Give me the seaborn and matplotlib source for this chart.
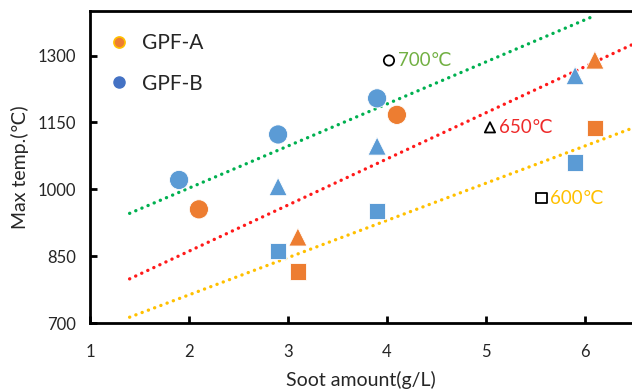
import matplotlib
matplotlib.use("Agg")
import matplotlib.pyplot as plt
import pandas as pd
import seaborn as sns
from matplotlib.lines import Line2D

# measured points: soot amount (g/L), max temperature (deg C), furnace temp group
soot_a = [2.1, 4.1, 3.1, 6.1, 3.1, 6.1]
temp_a = [955, 1167, 893, 1290, 816, 1137]
group_a = ["700", "700", "650", "650", "600", "600"]

soot_b = [1.9, 2.9, 3.9, 2.9, 3.9, 5.9, 2.9, 3.9, 5.9]
temp_b = [1021, 1123, 1204, 1006, 1097, 1255, 861, 951, 1060]
group_b = ["700", "700", "700", "650", "650", "650", "600", "600", "600"]

# dotted trend lines (start / end)
line_x = {"700": [1.4, 6.05], "650": [1.4, 6.5], "600": [1.4, 6.5]}
line_y = {"700": [946, 1385], "650": [799, 1327], "600": [713, 1139]}

x_ticks = [1, 2, 3, 4, 5, 6]
y_ticks = [700, 850, 1000, 1150, 1300]

df = pd.concat(
    [
        pd.DataFrame({"soot": soot_a, "temp": temp_a, "group": group_a, "filter": "GPF-A"}),
        pd.DataFrame({"soot": soot_b, "temp": temp_b, "group": group_b, "filter": "GPF-B"}),
    ],
    ignore_index=True,
)

sns.set_theme(style="white")
plt.rcParams["font.family"] = ["Lato", "DejaVu Sans"]

fig = plt.figure(figsize=(6.32, 3.92), dpi=100)
ax = fig.add_axes([90 / 632, 69 / 392, 542 / 632, 312 / 392])

line_colors = {"700": "#00b050", "650": "#ff1a1a", "600": "#ffc000"}
for key in ["700", "650", "600"]:
    sns.lineplot(
        x=line_x[key],
        y=line_y[key],
        ax=ax,
        color=line_colors[key],
        linewidth=2.4,
        linestyle=(0, (0.05, 1.95)),
        dash_capstyle="round",
        legend=False,
    )

sns.scatterplot(
    data=df,
    x="soot",
    y="temp",
    hue="filter",
    palette={"GPF-A": "#ed7d31", "GPF-B": "#5b9bd5"},
    style="group",
    markers={"700": "o", "650": "^", "600": "s"},
    size="group",
    sizes={"700": 190, "650": 170, "600": 140},
    edgecolor="white",
    linewidth=0.6,
    ax=ax,
    legend=False,
    zorder=3,
)

# marker key annotations
keys = [
    (4.02, 1289, "o", "700℃", "#72b043"),
    (5.04, 1139, "^", "650℃", "#ee2a2a"),
    (5.56, 980, "s", "600℃", "#ffc000"),
]
for kx, ky, m, label, c in keys:
    ax.scatter([kx], [ky], marker=m, s=55, facecolors="none", edgecolors="black", linewidths=1.3, zorder=4)
    ax.text(kx + 0.09, ky, label, color=c, fontsize=13.5, va="center", ha="left")

handles = [
    Line2D([], [], marker="o", linestyle="none", markersize=8,
           markerfacecolor="#ed7d31", markeredgecolor="#ffc000", markeredgewidth=1.2),
    Line2D([], [], marker="o", linestyle="none", markersize=8,
           markerfacecolor="#4472c4", markeredgecolor="#4472c4"),
]
ax.legend(handles, ["GPF-A", "GPF-B"], loc="upper left", frameon=False,
          fontsize=15, handlelength=1.0, handletextpad=0.6, labelspacing=1.0,
          bbox_to_anchor=(0.0, 0.99), borderaxespad=0.5)

ax.set_xlim(1, 1 + 542 / 99)
ax.set_ylim(700, 1400)
ax.set_xticks(x_ticks)
ax.set_yticks(y_ticks)
ax.set_xlabel("Soot amount(g/L)", fontsize=14, labelpad=8)
ax.set_ylabel("Max temp.(℃)", fontsize=14, labelpad=6)

for side in ["left", "bottom", "top"]:
    ax.spines[side].set_visible(True)
    ax.spines[side].set_color("black")
    ax.spines[side].set_linewidth(2)
ax.spines["right"].set_visible(False)
ax.tick_params(axis="both", direction="in", length=5, width=2, color="black",
               labelsize=12, pad=10, bottom=True, left=True, top=False, right=False)
ax.tick_params(axis="x", pad=15)
ax.grid(False)

fig.savefig("out.png", dpi=100)
